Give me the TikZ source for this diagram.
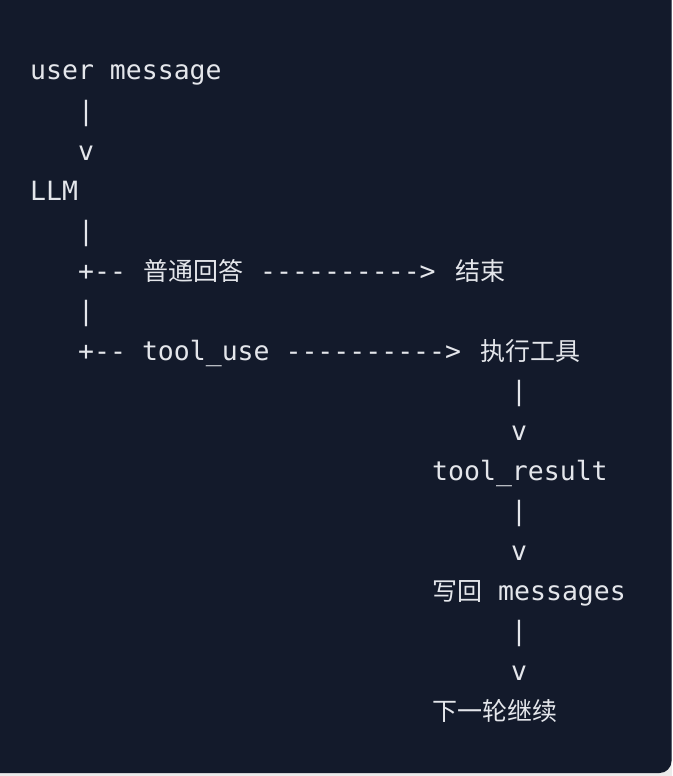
\documentclass[tikz,border=0pt]{standalone}
\usepackage{fontspec}
\setmonofont{DejaVu Sans Mono}
\newfontfamily\cjk{Noto Sans CJK SC}
\definecolor{bg}{HTML}{131A2B}
\definecolor{fg}{HTML}{E4E6EB}
\begin{document}
\begin{tikzpicture}[x=1pt,y=-1pt,
  t/.style={anchor=base west,inner sep=0pt,text=fg,font=\ttfamily\fontsize{26.5}{26.5}\selectfont},
  c/.style={anchor=base west,inner sep=0pt,text=fg,font=\cjk\fontsize{25}{25}\selectfont}]
\useasboundingbox (0,0) rectangle (672,776);
\clip (0,0) rectangle (672,776);
\fill[white!92!black] (0,0) rectangle (672,776);
\fill[bg,rounded corners=12] (-20,-20) rectangle (671.5,773);
\node[t] (l1) at (30,80) {user message};
\node[t] (l2) at (78,120) {|};
\node[t] (l3) at (78,160) {v};
\node[t] (l4) at (30,200) {LLM};
\node[t] (l5) at (78,240) {|};
\node[t] (l6a) at (78,280) {+--};
\node[c] (l6b) at (143,280) {普通回答};
\node[t] (l6c) at (260,280) {---------->};
\node[c] (l6d) at (455,280) {结束};
\node[t] (l7) at (78,320) {|};
\node[t] (l8a) at (78,360) {+-- tool\_use ---------->};
\node[c] (l8b) at (480,360) {执行工具};
\node[t] (l9) at (511,400) {|};
\node[t] (l10) at (511,440) {v};
\node[t] (l11) at (432,480) {tool\_result};
\node[t] (l12) at (511,520) {|};
\node[t] (l13) at (511,560) {v};
\node[c] (l14a) at (432,600) {写回};
\node[t] (l14b) at (498,600) {messages};
\node[t] (l15) at (511,640) {|};
\node[t] (l16) at (511,680) {v};
\node[c] (l17) at (432,720) {下一轮继续};
\end{tikzpicture}
\end{document}
